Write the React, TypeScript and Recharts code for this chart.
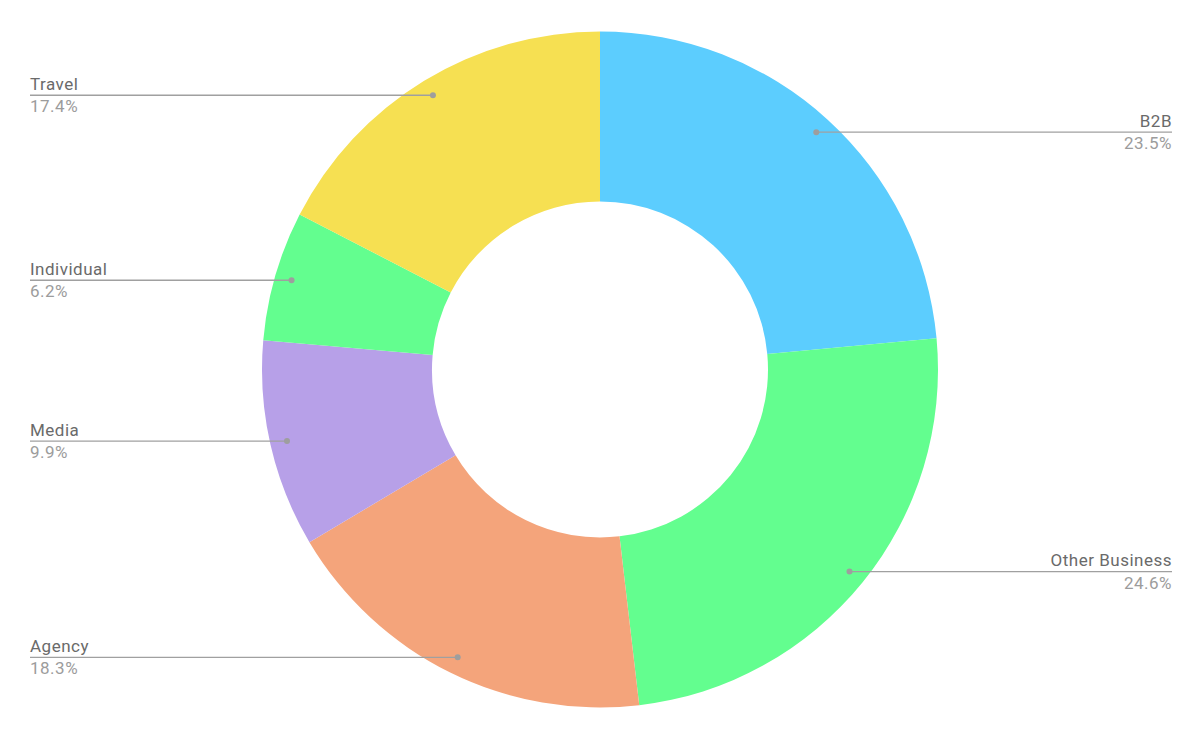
import { Cell, Pie, PieChart } from "recharts";

const CATEGORIES = ["B2B", "Other Business", "Agency", "Media", "Individual", "Travel"];
const SHARES = [23.5, 24.6, 18.3, 9.9, 6.2, 17.4];
const SLICE_COLORS = ["#5ccdfe", "#63fe8f", "#f4a47b", "#b7a0e8", "#63fe8f", "#f6e052"];

const RAD = Math.PI / 180;
const LEFT_X = 30;
const RIGHT_X = 1172;

type Row = { name: string; value: number };

const data: Row[] = CATEGORIES.map((name, i) => ({ name, value: SHARES[i] }));

function renderLabel(props: any) {
  const { cx, cy, midAngle, outerRadius, name, value } = props;
  const r = outerRadius * 0.95;
  const x = cx + r * Math.cos(-midAngle * RAD);
  const y = cy + r * Math.sin(-midAngle * RAD);
  const right = x > cx;
  const endX = right ? RIGHT_X : LEFT_X;
  const anchor = right ? "end" : "start";
  const textStyle = {
    fontFamily: "Roboto, sans-serif",
    fontSize: 17,
    letterSpacing: 0.5,
  };
  return (
    <g key={`lbl-${name}`}>
      <line x1={x} y1={y} x2={endX} y2={y} stroke="#a0a0a0" strokeWidth={1.4} />
      <circle cx={x} cy={y} r={3} fill="#9e9e9e" />
      <text x={endX} y={y - 5.5} textAnchor={anchor} fill="#6a6a6a" style={textStyle}>
        {name}
      </text>
      <text x={endX} y={y + 17} textAnchor={anchor} fill="#9c9c9c" style={textStyle}>
        {`${value.toFixed(1)}%`}
      </text>
    </g>
  );
}

export default function App() {
  return (
    <div style={{ position: "absolute", left: 0, top: 0, background: "#fff" }}>
      <PieChart width={1200} height={740} margin={{ top: 0, right: 0, bottom: 0, left: 0 }}>
        <Pie
          data={data}
          dataKey="value"
          nameKey="name"
          cx={600}
          cy={369.5}
          innerRadius={168}
          outerRadius={338}
          startAngle={90}
          endAngle={-270}
          stroke="none"
          label={renderLabel}
          labelLine={false}
          isAnimationActive={false}
        >
          {data.map((_, i) => (
            <Cell key={`cell-${i}`} fill={SLICE_COLORS[i % SLICE_COLORS.length]} />
          ))}
        </Pie>
      </PieChart>
    </div>
  );
}
